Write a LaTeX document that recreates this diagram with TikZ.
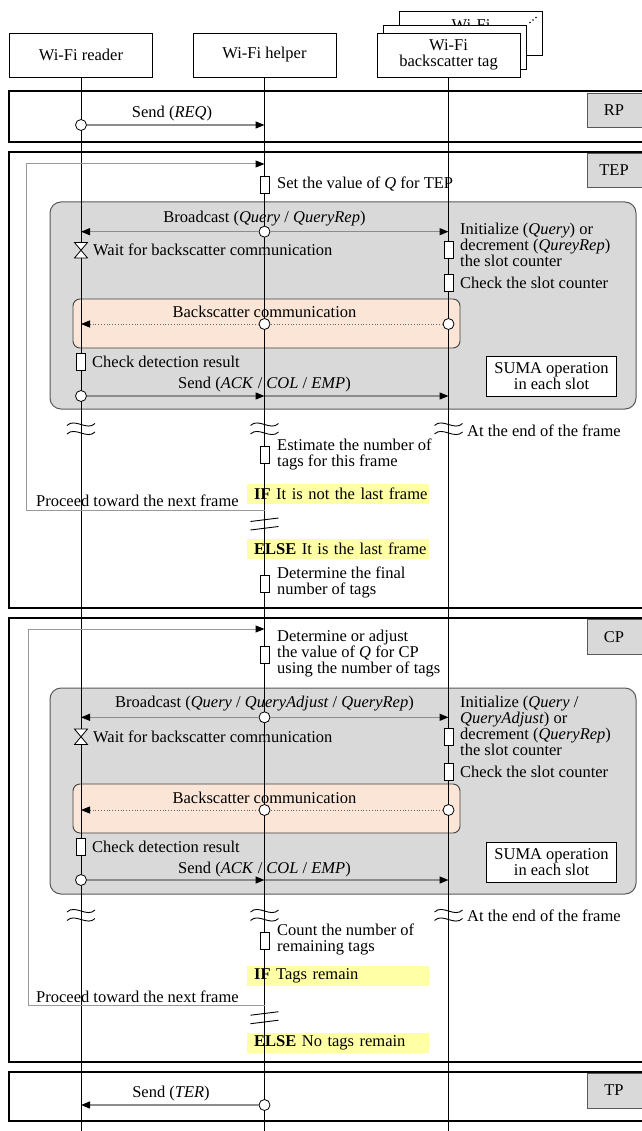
\documentclass[tikz,border=0pt]{standalone}
\usepackage{fontspec}
\setmainfont{Liberation Serif}
\usetikzlibrary{arrows.meta}
\definecolor{slotgray}{HTML}{D9D9D9}
\definecolor{bspeach}{HTML}{FBE5D6}
\definecolor{ifyellow}{HTML}{FFFFA6}

\begin{document}
\begin{tikzpicture}[x=1pt,y=-1pt,
  every node/.append style={font=\fontsize{16.5}{16}\selectfont},
  head/.style={draw,fill=white,line width=0.8pt,minimum width=143pt,minimum height=44pt,align=center,inner sep=0pt},
  frame/.style={draw,fill=white,line width=2.6pt},
  phase/.style={draw=black!65,fill=slotgray,line width=0.8pt},
  slotbox/.style={draw=black!65,fill=slotgray,line width=1pt,rounded corners=11pt},
  bsbox/.style={draw=black!75,fill=bspeach,line width=0.9pt,rounded corners=7pt},
  sumabox/.style={draw,fill=white,line width=0.8pt,minimum width=130pt,minimum height=40pt,align=center,inner sep=0pt},
  cond/.style={fill=ifyellow,anchor=west,minimum height=20pt,inner sep=0pt,text width=181.5pt,align=left},
  lifeline/.style={line width=1pt},
  tip/.style={-{Triangle[length=9pt,width=7pt,color=black]}},
  msg/.style={draw=black!45,line width=1.3pt,tip},
  dotmsg/.style={draw=black!60,line width=0.8pt,dotted},
  loopline/.style={draw=black!40,line width=1pt,tip},
  dot/.style={circle,draw,fill=white,line width=0.8pt,minimum size=11pt,inner sep=0pt},
  act/.style={draw,fill=white,line width=0.8pt,minimum width=9pt,minimum height=17pt,inner sep=0pt},
  note/.style={anchor=west,align=left,inner sep=0pt},
  brk/.style={line width=0.9pt}]

\useasboundingbox (0,0) rectangle (641,1131);

% phases
\draw[frame] (9,91) rectangle (665,142);
\draw[phase] (587,93) rectangle (665,127.5);
\node (rplab) at (614,110.5) {RP};

\draw[frame] (9,152) rectangle (665,608);
\draw[phase] (587,153.5) rectangle (665,187);
\node (teplab) at (614,170) {TEP};
\draw[slotbox] (50,202) rectangle (636,409);
\draw[bsbox] (73,299) rectangle (460,348);
\node[sumabox] (sumatep) at (551.5,376) {SUMA operation\\in each slot};
\node[cond] (iftep) at (247,494) {\hspace*{7pt}\textbf{IF} It is not the last frame};
\node[cond] (elsetep) at (247,549) {\hspace*{7pt}\textbf{ELSE} It is the last frame};

\draw[frame] (9,618) rectangle (665,1062);
\draw[phase] (587,619.5) rectangle (665,654);
\node (cplab) at (614,637) {CP};
\draw[slotbox] (50,688) rectangle (636,894);
\draw[bsbox] (73,784) rectangle (460,833);
\node[sumabox] (sumacp) at (551.5,862) {SUMA operation\\in each slot};
\node[cond] (ifcp) at (247,976) {\hspace*{7pt}\textbf{IF} Tags remain};
\node[cond] (elsecp) at (247,1043) {\hspace*{7pt}\textbf{ELSE} No tags remain};

\draw[frame] (9,1072) rectangle (665,1121);
\draw[phase] (587,1073.5) rectangle (665,1108);
\node (tplab) at (614,1090.5) {TP};

% participants
\node[head] (tagc) at (471,33.5) {};
\node (tagctxt) at (471,25) {Wi-Fi};
\node[head] (tagb) at (454.5,47) {};
\node[head] (tag) at (448.5,55) {Wi-Fi\\backscatter tag};
\node[head] (reader) at (81,55) {Wi-Fi reader};
\node[head] (helper) at (264.5,55) {Wi-Fi helper};
\fill (530,22.5) circle (0.8) (533,20) circle (0.8) (536,17.5) circle (0.8);

\coordinate (readerbot) at (81,1135);
\coordinate (helperbot) at (264.5,1135);
\coordinate (tagbot) at (448.5,1135);
\draw[lifeline] (reader.south) -- (readerbot);
\draw[lifeline] (helper.south) -- (helperbot);
\draw[lifeline] (tag.south) -- (tagbot);

% RP
\node[dot] (reqr) at (81,125) {};
\coordinate (reqh) at (264.5,125);
\draw[msg] (reqr) -- (reqh);
\node (reqtxt) at (172,114) {Send (\textit{REQ})};

% TEP
\coordinate (teploopout) at (264.5,510.5);
\coordinate (teploopb) at (26,510.5);
\coordinate (teploopa) at (26,164);
\coordinate (teploopin) at (264.5,164);
\draw[loopline] (teploopout) -- (teploopb) -- (teploopa) -- (teploopin);

\node[act] (tepq) at (264.5,185) {};
\node[note] (tepqtxt) at (277,184) {Set the value of \textit{Q} for TEP};

\node[dot] (bctep) at (264.5,231.7) {};
\coordinate (bctepr) at (81,231.7);
\coordinate (bctept) at (448.5,231.7);
\draw[msg] (bctep) -- (bctepr);
\draw[msg] (bctep) -- (bctept);
\node (bcteptxt) at (264.5,219) {Broadcast (\textit{Query} / \textit{QueryRep})};

\draw[fill=white,line width=0.8pt] (74.5,242.5) -- (87.5,242.5) -- (74.5,258) -- (87.5,258) -- cycle;
\node[note] (waittep) at (93,250) {Wait for backscatter communication};

\node[act] (inittep) at (448.5,249.5) {};
\node[note] (inittepttxt) at (460,244.5) {Initialize (\textit{Query}) or\\decrement (\textit{QureyRep})\\the slot counter};
\node[act] (chktep) at (448.5,282.5) {};
\node[note] (chkteptxt) at (460,283) {Check the slot counter};

\node[dot] (bstept) at (448.5,324) {};
\node[dot] (bsteph) at (264.5,324) {};
\coordinate (bstepr) at (81,324);
\draw[dotmsg] (bstept) -- (bsteph);
\draw[dotmsg,tip] (bsteph) -- (bstepr);
\node (bsteptxt) at (264.5,312) {Backscatter communication};

\node[act] (dettep) at (81,362) {};
\node[note] (detteptxt) at (92,362) {Check detection result};

\node[dot] (acktep) at (81,396) {};
\coordinate (ackteph) at (264.5,396);
\coordinate (ackteptag) at (448.5,396);
\draw[msg] (acktep) -- (ackteph);
\draw[msg] (ackteph) -- (ackteptag);
\node (ackteptxt) at (264.5,385) {Send (\textit{ACK} / \textit{COL} / \textit{EMP})};

\draw[brk] (67,425.5) .. controls (75,417.5) and (87,431.5) .. (95,423.5);
\draw[brk] (67,434) .. controls (75,426) and (87,440) .. (95,432);
\draw[brk] (250.5,425.5) .. controls (258.5,417.5) and (270.5,431.5) .. (278.5,423.5);
\draw[brk] (250.5,434) .. controls (258.5,426) and (270.5,440) .. (278.5,432);
\draw[brk] (434.5,425.5) .. controls (442.5,417.5) and (454.5,431.5) .. (462.5,423.5);
\draw[brk] (434.5,434) .. controls (442.5,426) and (454.5,440) .. (462.5,432);
\node[note] (endtep) at (467,431) {At the end of the frame};

\node[act] (esttep) at (264.5,455) {};
\node[note] (estteptxt) at (277,454.5) {Estimate the number of\\tags for this frame};
\node[note] (proctep) at (36,500.5) {Proceed toward the next frame};
\draw[brk] (250.5,521.5) -- (278.5,518);
\draw[brk] (250.5,530) -- (278.5,526.5);
\node[act] (fintep) at (264.5,583.5) {};
\node[note] (finteptxt) at (277,582.5) {Determine the final\\number of tags};

% CP
\coordinate (cploopout) at (264.5,1005.5);
\coordinate (cploopb) at (28.5,1005.5);
\coordinate (cploopa) at (28.5,629);
\coordinate (cploopin) at (264.5,629);
\draw[loopline] (cploopout) -- (cploopb) -- (cploopa) -- (cploopin);

\node[act] (cpq) at (264.5,655) {};
\node[note] (cpqtxt) at (277,653.5) {Determine or adjust\\the value of \textit{Q} for CP\\using the number of tags};

\node[dot] (bccp) at (264.5,717.3) {};
\coordinate (bccpr) at (81,717.3);
\coordinate (bccpt) at (448.5,717.3);
\draw[msg] (bccp) -- (bccpr);
\draw[msg] (bccp) -- (bccpt);
\node (bccptxt) at (264.5,704) {Broadcast (\textit{Query} / \textit{QueryAdjust} / \textit{QueryRep})};

\draw[fill=white,line width=0.8pt] (74.5,729) -- (87.5,729) -- (74.5,744.5) -- (87.5,744.5) -- cycle;
\node[note] (waitcp) at (93,736.7) {Wait for backscatter communication};

\node[act] (initcp) at (448.5,736.5) {};
\node[note] (initcptxt) at (460,725.5) {Initialize (\textit{Query} /\\\textit{QueryAdjust}) or\\decrement (\textit{QueryRep})\\the slot counter};
\node[act] (chkcp) at (448.5,771.7) {};
\node[note] (chkcptxt) at (460,771.7) {Check the slot counter};

\node[dot] (bscpt) at (448.5,810) {};
\node[dot] (bscph) at (264.5,810) {};
\coordinate (bscpr) at (81,810);
\draw[dotmsg] (bscpt) -- (bscph);
\draw[dotmsg,tip] (bscph) -- (bscpr);
\node (bscptxt) at (264.5,798) {Backscatter communication};

\node[act] (detcp) at (81,847.3) {};
\node[note] (detcptxt) at (92,847.3) {Check detection result};

\node[dot] (ackcp) at (81,880) {};
\coordinate (ackcph) at (264.5,880);
\coordinate (ackcptag) at (448.5,880);
\draw[msg] (ackcp) -- (ackcph);
\draw[msg] (ackcph) -- (ackcptag);
\node (ackcptxt) at (264.5,869.5) {Send (\textit{ACK} / \textit{COL} / \textit{EMP})};

\draw[brk] (67,912) .. controls (75,904) and (87,918) .. (95,910);
\draw[brk] (67,920.5) .. controls (75,912.5) and (87,926.5) .. (95,918.5);
\draw[brk] (250.5,912) .. controls (258.5,904) and (270.5,918) .. (278.5,910);
\draw[brk] (250.5,920.5) .. controls (258.5,912.5) and (270.5,926.5) .. (278.5,918.5);
\draw[brk] (434.5,912) .. controls (442.5,904) and (454.5,918) .. (462.5,910);
\draw[brk] (434.5,920.5) .. controls (442.5,912.5) and (454.5,926.5) .. (462.5,918.5);
\node[note] (endcp) at (467,916) {At the end of the frame};

\node[act] (cntcp) at (264.5,941) {};
\node[note] (cntcptxt) at (277,939) {Count the number of\\remaining tags};
\node[note] (proccp) at (36,996.7) {Proceed toward the next frame};
\draw[brk] (250.5,1015.2) -- (278.5,1011.7);
\draw[brk] (250.5,1023.7) -- (278.5,1020.2);

% TP
\node[dot] (terh) at (264.5,1105) {};
\coordinate (terr) at (81,1105);
\draw[msg] (terh) -- (terr);
\node (tertxt) at (171,1094) {Send (\textit{TER})};
\end{tikzpicture}
\end{document}
